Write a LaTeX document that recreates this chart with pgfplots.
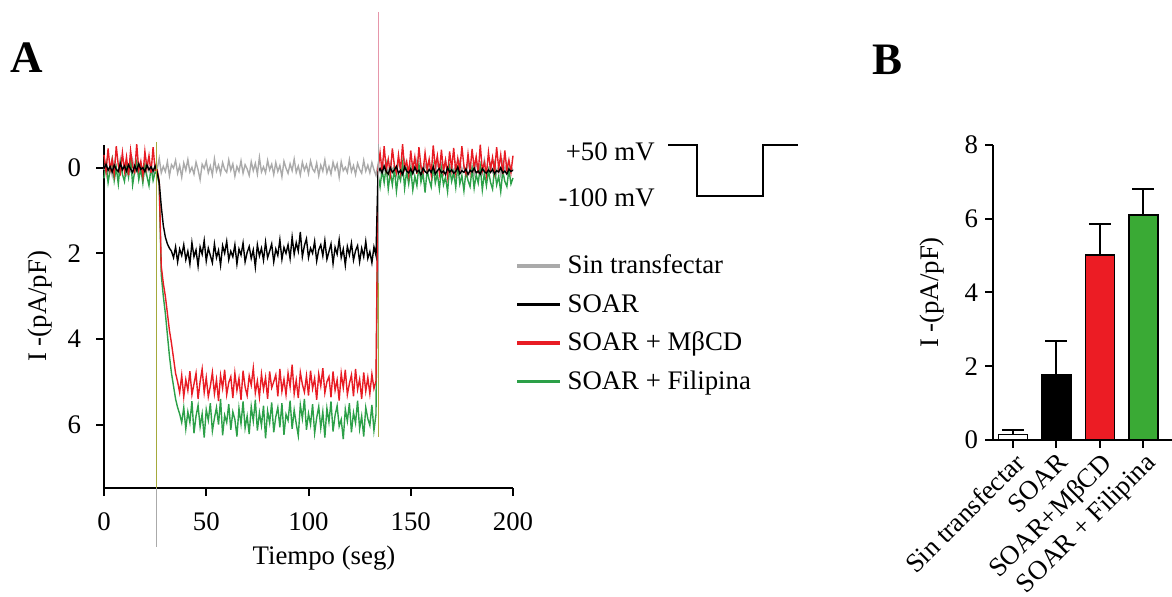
\documentclass[border=0pt]{standalone}
\usepackage{fontspec}
\setmainfont{Liberation Serif}
\usepackage{pgfplots}
\usepackage{pgfplotstable}
\pgfplotsset{compat=1.18}
\definecolor{tgray}{RGB}{170,170,170}
\definecolor{tred}{RGB}{232,28,36}
\definecolor{tgreen}{RGB}{44,160,72}
\definecolor{bred}{RGB}{236,28,36}
\definecolor{bgreen}{RGB}{58,170,53}
\definecolor{olivet}{RGB}{165,170,60}
\definecolor{pinkt}{RGB}{230,150,170}

\pgfplotstableread{
t g k r n
0 0.05 0.02 -0.30 0.25
1 -0.12 -0.08 0.10 -0.10
2 0.10 0.06 -0.45 0.35
3 -0.05 -0.03 0.05 0.05
4 0.18 0.10 -0.20 -0.20
5 -0.15 -0.06 0.15 0.30
6 0.02 0.04 -0.50 0.00
7 0.12 0.09 -0.05 0.38
8 -0.20 -0.10 0.12 -0.12
9 0.06 0.05 -0.35 0.15
10 -0.08 -0.04 0.08 0.32
11 0.15 0.08 -0.25 -0.05
12 -0.02 -0.07 0.18 0.22
13 0.08 0.03 -0.40 -0.25
14 -0.18 0.11 -0.02 0.40
15 0.11 -0.05 0.10 0.08
16 -0.06 0.07 -0.55 -0.15
17 0.20 -0.09 0.05 0.28
18 -0.10 0.04 -0.15 0.02
19 0.03 0.00 0.20 0.36
20 0.14 0.09 -0.38 -0.08
21 -0.16 -0.06 0.02 0.20
22 0.07 0.05 -0.28 0.42
23 -0.04 -0.02 0.12 -0.02
24 0.16 0.08 -0.48 0.30
25 -0.09 -0.04 0.06 0.10
26 0.04 0.10 0.05 0.15
27 -0.22 0.35 0.30 0.40
28 0.12 0.90 2.30 2.50
29 -0.03 1.35 2.70 3.00
30 0.09 1.62 3.00 3.40
31 -0.14 1.78 3.40 3.90
32 0.19 1.88 3.80 4.40
33 -0.07 1.95 4.10 4.80
34 0.01 2.10 4.45 5.10
35 -0.17 1.85 4.80 5.40
36 0.13 2.20 5.00 5.60
37 -0.05 1.90 5.25 5.75
38 0.22 2.05 4.85 5.95
39 -0.11 1.80 5.35 5.60
40 0.06 2.15 4.95 6.10
41 -0.19 1.95 5.20 5.70
42 0.10 2.25 4.75 5.95
43 -0.01 1.75 5.30 5.45
44 0.15 2.08 5.05 6.20
45 -0.13 1.92 4.80 5.80
46 0.05 2.30 5.40 5.55
47 0.28 1.85 5.00 6.05
48 -0.08 2.02 4.70 5.75
49 0.02 1.70 5.25 6.30
50 -0.15 2.18 4.90 5.65
51 0.12 1.88 5.35 5.90
52 -0.04 2.05 5.10 5.50
53 0.17 2.22 4.78 6.15
54 -0.21 1.78 5.28 5.85
55 0.08 2.10 4.95 5.60
56 -0.06 1.93 5.45 6.00
57 0.14 2.28 4.85 5.40
58 -0.12 1.82 5.15 6.25
59 0.04 2.00 4.72 5.78
60 0.11 1.72 5.30 5.95
61 -0.18 2.15 5.02 5.52
62 0.06 1.95 4.88 6.12
63 -0.09 2.08 5.38 5.70
64 0.20 1.80 4.80 5.88
65 -0.03 2.25 5.20 6.28
66 0.09 1.90 4.92 5.62
67 -0.16 2.04 5.42 5.98
68 0.13 1.76 4.74 5.46
69 -0.07 2.20 5.12 6.08
70 0.03 1.98 5.32 5.80
71 0.18 1.84 4.86 6.22
72 -0.14 2.12 5.08 5.58
73 0.07 1.92 4.68 5.92
74 -0.10 2.32 5.26 5.42
75 0.15 1.80 4.98 6.14
76 -0.24 2.06 5.36 5.72
77 0.10 1.88 4.82 6.02
78 -0.02 2.16 5.18 5.56
79 0.12 1.74 4.90 6.32
80 -0.17 2.10 5.40 5.68
81 0.05 1.95 4.76 5.96
82 -0.08 1.78 5.14 5.48
83 0.16 2.20 5.00 6.18
84 -0.12 1.90 4.84 5.82
85 0.09 2.05 5.34 5.60
86 -0.05 1.68 4.70 6.06
87 0.21 2.14 5.22 5.50
88 -0.15 1.86 4.94 6.24
89 0.01 2.00 5.30 5.76
90 0.13 1.80 4.80 5.90
91 -0.09 2.12 5.12 5.44
92 0.07 1.62 4.60 6.10
93 -0.20 2.02 5.28 5.66
94 0.11 1.75 4.96 5.98
95 -0.04 1.95 5.38 6.26
96 0.17 1.50 4.78 5.54
97 -0.13 2.08 5.06 5.86
98 0.06 1.82 5.24 5.40
99 -0.07 1.66 4.86 6.12
100 0.14 2.10 5.32 5.74
101 -0.16 1.88 4.74 6.00
102 0.03 2.00 5.16 5.52
103 0.10 1.72 4.92 6.20
104 -0.11 2.18 5.42 5.84
105 0.19 1.92 4.82 5.58
106 -0.06 1.80 5.10 6.08
107 0.08 2.06 4.68 5.70
108 -0.18 1.70 5.26 6.30
109 0.12 2.14 5.00 5.62
110 -0.03 1.96 4.88 5.94
111 0.15 1.78 5.36 5.46
112 -0.13 2.24 4.76 6.16
113 0.05 1.86 5.20 5.78
114 -0.09 2.02 4.96 5.56
115 0.22 1.68 5.44 6.04
116 -0.14 2.10 4.80 5.88
117 0.07 1.90 5.14 6.34
118 -0.01 2.28 4.72 5.64
119 0.11 1.84 5.30 5.92
120 -0.19 2.04 5.04 5.50
121 0.09 1.76 4.84 6.18
122 -0.05 2.16 5.34 5.72
123 0.16 1.94 4.70 5.96
124 -0.10 1.82 5.18 5.44
125 0.04 2.20 4.94 6.10
126 0.13 1.88 5.40 5.80
127 -0.17 2.08 4.78 6.28
128 0.08 1.72 5.22 5.60
129 -0.06 2.12 4.90 5.86
130 0.12 1.96 5.28 6.02
131 -0.12 2.22 4.82 5.54
132 0.05 1.85 5.16 6.14
133 0.18 2.05 4.98 5.76
134 -0.08 0.10 0.05 0.15
135 0.10 0.02 -0.35 0.45
136 -0.15 0.12 0.10 0.05
137 0.06 -0.04 -0.50 0.35
138 -0.04 0.09 0.05 -0.05
139 0.14 0.15 -0.20 0.50
140 -0.11 0.00 0.15 0.10
141 0.08 0.11 -0.45 0.40
142 -0.06 0.05 -0.05 0.00
143 0.17 -0.03 0.12 0.55
144 -0.13 0.13 -0.30 0.15
145 0.03 0.06 0.08 0.30
146 0.11 0.16 -0.55 -0.10
147 -0.16 -0.02 0.02 0.48
148 0.09 0.08 -0.15 0.08
149 -0.02 0.12 0.18 0.38
150 0.15 0.03 -0.40 0.02
151 -0.10 0.14 0.06 0.52
152 0.04 -0.01 -0.25 0.20
153 -0.18 0.10 0.14 0.42
154 0.12 0.06 -0.48 -0.08
155 -0.05 0.17 -0.02 0.34
156 0.20 0.01 0.10 0.12
157 -0.08 0.09 -0.35 0.58
158 0.07 0.13 0.04 0.06
159 -0.14 0.04 -0.20 0.28
160 0.10 0.11 0.16 0.45
161 -0.03 -0.02 -0.52 -0.04
162 0.16 0.15 0.00 0.36
163 -0.12 0.07 -0.28 0.14
164 0.05 0.02 0.12 0.50
165 -0.09 0.12 -0.42 0.04
166 0.13 0.08 0.08 0.40
167 -0.17 0.16 -0.18 0.22
168 0.02 0.00 0.20 0.56
169 0.11 0.10 -0.38 0.00
170 -0.07 0.05 0.03 0.32
171 0.18 0.13 -0.46 0.10
172 -0.11 0.09 0.11 0.46
173 0.06 -0.01 -0.22 -0.06
174 -0.15 0.14 0.06 0.38
175 0.09 0.07 -0.50 0.18
176 -0.04 0.11 -0.04 0.54
177 0.14 0.03 0.14 0.08
178 -0.13 0.16 -0.32 0.30
179 0.08 0.06 0.09 0.44
180 -0.02 0.10 -0.44 0.02
181 0.17 0.01 0.01 0.48
182 -0.16 0.12 -0.26 0.16
183 0.10 0.08 0.13 0.36
184 -0.06 0.15 -0.54 -0.02
185 0.12 0.02 0.07 0.52
186 -0.19 0.09 -0.12 0.12
187 0.05 0.13 0.17 0.42
188 0.15 0.05 -0.36 0.06
189 -0.08 0.11 0.04 0.34
190 0.09 0.04 -0.24 0.50
191 -0.12 0.14 0.10 0.00
192 0.13 0.07 -0.48 0.40
193 -0.05 0.10 0.02 0.20
194 0.19 0.00 -0.30 0.56
195 -0.14 0.12 0.15 0.08
196 0.07 0.08 -0.40 0.32
197 -0.10 0.15 0.06 0.44
198 0.16 0.03 -0.18 0.04
199 -0.03 0.09 0.11 0.38
200 0.06 0.06 -0.28 0.24
}\traces

\newcommand{\fs}{\fontsize{13.4}{16}\selectfont}

\begin{document}
\begin{tikzpicture}
\path[use as bounding box] (0,0) rectangle (586pt,-298.5pt);

% Panel letters
\node[font=\fontsize{22.5}{27}\selectfont\bfseries] at (13.5pt,-29pt) {A};
\node[font=\fontsize{22.5}{27}\selectfont\bfseries] at (443.5pt,-30pt) {B};

% Voltage protocol
\node[anchor=east,font=\fs,inner sep=0pt] at (327.5pt,-76pt) {+50 mV};
\node[anchor=east,font=\fs,inner sep=0pt] at (327.5pt,-99pt) {-100 mV};
\draw[line width=0.9pt] (334pt,-72.5pt) -- (348.5pt,-72.5pt) -- (348.5pt,-98pt) -- (381.5pt,-98pt) -- (381.5pt,-72.5pt) -- (399pt,-72.5pt);

\begin{axis}[
  at={(154.25pt,-158.25pt)}, anchor=center,
  width=204.5pt, height=171.5pt, scale only axis,
  xmin=0, xmax=200, ymin=-0.53, ymax=7.48, y dir=reverse,
  axis x line=bottom, axis y line=left,
  axis line style={-, line width=1pt},
  tick style={line width=1pt, black},
  tick align=outside, major tick length=4pt,
  xtick={0,50,100,150,200}, ytick={0,2,4,6},
  minor tick num=0,
  /pgf/number format/assume math mode=true,
  tick label style={font=\fs},
  x tick label style={yshift=-5pt},
  y tick label style={xshift=-4pt},
  xlabel={Tiempo (seg)}, ylabel={I -(pA/pF)},
  label style={font=\fs},
  xlabel style={at={(axis description cs:0.538,-0.205)}, anchor=center},
  ylabel style={at={(axis description cs:-0.156,0.53)}, anchor=center},
  clip=false,
  legend style={draw=none, fill=none, at={(axis description cs:1.005,0.705)}, anchor=north west,
    inner xsep=0pt, inner ysep=0pt, row sep=0pt, font=\fs,
    nodes={inner sep=0pt, text height=13.6pt, text depth=5.65pt}},
  legend cell align=left,
  legend image code/.code={\draw[#1, line width=1.75pt] (0pt,0pt) -- (21.5pt,0pt); \path (25pt,0pt);},
]
\addplot[tgray, line width=0.7pt, forget plot] table[x=t, y=g] {\traces};
\addplot[tgreen, line width=0.7pt, forget plot] table[x=t, y=n] {\traces};
\addplot[tred, line width=0.7pt, forget plot] table[x=t, y=r] {\traces};
\addplot[black, line width=0.7pt, forget plot] table[x=t, y=k] {\traces};
% transients
\addplot[olivet, line width=0.5pt, forget plot] coordinates {(25.9,-0.6) (25.9,7.48)};
\addplot[tgray, line width=0.5pt, forget plot] coordinates {(25.9,7.48) (25.9,8.86)};
\addplot[pinkt, line width=0.5pt, forget plot] coordinates {(134,-3.64) (134,-0.55)};
\addplot[tgray, line width=0.5pt, forget plot] coordinates {(134,-0.55) (134,2.7)};
\addplot[olivet, line width=0.5pt, forget plot] coordinates {(134,2.7) (134,6.3)};

\addlegendimage{tgray}
\addlegendentry{Sin transfectar}
\addlegendimage{black}
\addlegendentry{SOAR}
\addlegendimage{tred}
\addlegendentry{SOAR + MβCD}
\addlegendimage{tgreen}
\addlegendentry{SOAR + Filipina}
\end{axis}

\begin{axis}[
  at={(541.25pt,-146.25pt)}, anchor=center,
  width=89.5pt, height=147.5pt, scale only axis,
  xmin=-0.46, xmax=3.66, ymin=0, ymax=8,
  axis x line=bottom, axis y line=left,
  axis line style={-, line width=1pt},
  tick style={line width=1pt, black},
  tick align=outside, major tick length=4pt,
  xtick={0,1,2,3},
  xticklabels={Sin transfectar, SOAR, SOAR+MβCD, SOAR + Filipina},
  ytick={0,2,4,6,8},
  minor tick num=0,
  /pgf/number format/assume math mode=true,
  tick label style={font=\fs},
  x tick label style={rotate=45, anchor=north east, inner sep=1pt},
  ylabel={I -(pA/pF)},
  label style={font=\fs},
  ylabel style={at={(axis description cs:-0.341,0.5)}, anchor=center},
  bar width=14.5pt,
  clip=false,
]
\addplot[ybar, bar shift=0pt, fill=white, draw=black, line width=0.8pt,
  error bars/.cd, y dir=plus, y explicit,
  error bar style={line width=1pt, black},
  error mark options={rotate=90, mark size=5.5pt, line width=1pt, black}]
  coordinates {(0,0.15) +- (0,0.13)};
\addplot[ybar, bar shift=0pt, fill=black, draw=black, line width=0.8pt,
  error bars/.cd, y dir=plus, y explicit,
  error bar style={line width=1pt, black},
  error mark options={rotate=90, mark size=5.5pt, line width=1pt, black}]
  coordinates {(1,1.78) +- (0,0.90)};
\addplot[ybar, bar shift=0pt, fill=bred, draw=black, line width=0.8pt,
  error bars/.cd, y dir=plus, y explicit,
  error bar style={line width=1pt, black},
  error mark options={rotate=90, mark size=5.5pt, line width=1pt, black}]
  coordinates {(2,5.02) +- (0,0.85)};
\addplot[ybar, bar shift=0pt, fill=bgreen, draw=black, line width=0.8pt,
  error bars/.cd, y dir=plus, y explicit,
  error bar style={line width=1pt, black},
  error mark options={rotate=90, mark size=5.5pt, line width=1pt, black}]
  coordinates {(3,6.10) +- (0,0.70)};
\end{axis}
\end{tikzpicture}
\end{document}
